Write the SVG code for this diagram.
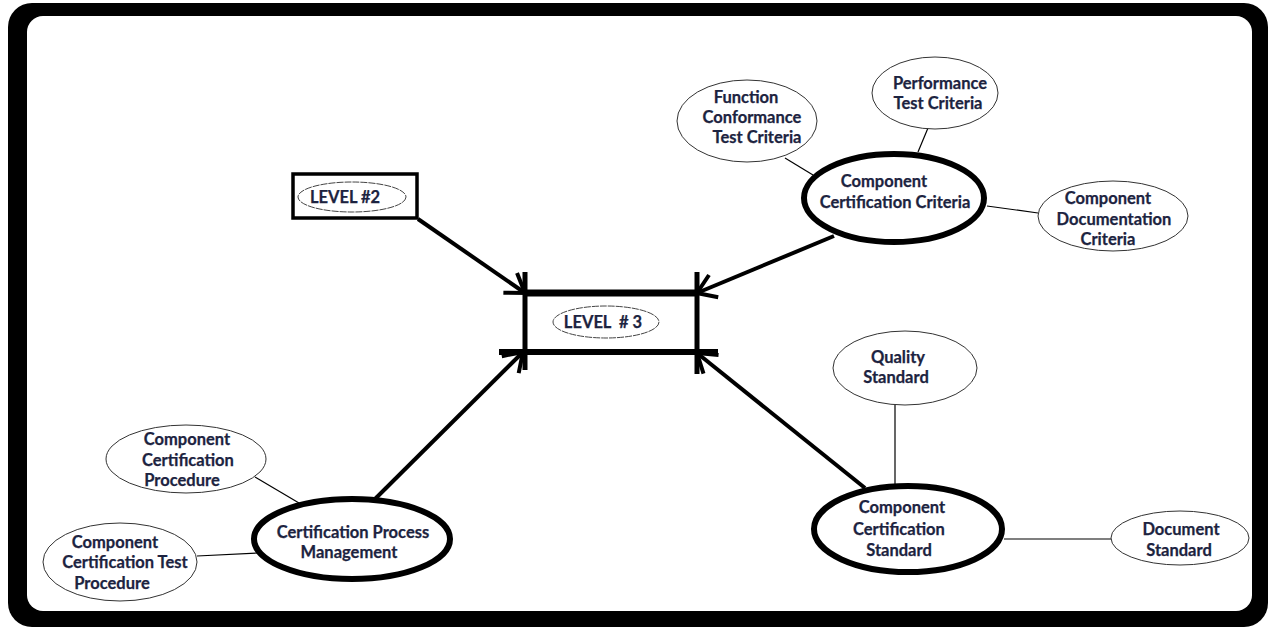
<svg xmlns="http://www.w3.org/2000/svg" width="1268" height="627" viewBox="0 0 1268 627">
  <defs>
    <marker id="arrow" viewBox="-22 -16 26 32" refX="0" refY="0" markerWidth="26" markerHeight="32" markerUnits="userSpaceOnUse" orient="auto" overflow="visible">
      <path d="M-18,-12 L0,0 L-18,12" fill="none" stroke="#000" stroke-width="4" stroke-linecap="butt"/>
    </marker>
  </defs>
  <style>
    text { font-family: Lato, "Open Sans", "Liberation Sans", sans-serif; font-weight: 700; font-size: 16.5px; fill: #1c2340; stroke: #1c2340; stroke-width: 0.25; text-anchor: middle; dominant-baseline: central; }
    .thin { fill: #fff; stroke: #333; stroke-width: 1; }
    .thick { fill: #fff; stroke: #000; stroke-width: 6; }
    .tag { fill: #fff; stroke: #444; stroke-width: 1; stroke-dasharray: 7 1; }
    .link { stroke: #000; stroke-width: 1.2; fill: none; }
    .main { stroke: #000; stroke-width: 4; fill: none; marker-end: url(#arrow); }
  </style>

  <!-- frame -->
  <rect x="0" y="0" width="1268" height="627" fill="#fff"/>
  <rect x="8" y="3" width="1260" height="624" rx="24" fill="#000"/>
  <rect x="27" y="16" width="1225" height="595" rx="16" fill="#fff"/>

  <!-- connectors -->
  <g id="connectors">
    <line class="main" x1="418" y1="219" x2="525" y2="293"/>
    <line class="main" x1="834" y1="236" x2="697" y2="293"/>
    <line class="main" x1="375" y1="499" x2="523" y2="352"/>
    <line class="main" x1="865" y1="488" x2="697" y2="353"/>
    <line class="link" x1="785" y1="158" x2="813" y2="175"/>
    <line class="link" x1="928" y1="128" x2="918" y2="152"/>
    <line class="link" x1="987" y1="206" x2="1038" y2="213"/>
    <line class="link" x1="255" y1="477" x2="299" y2="503"/>
    <line class="link" x1="197" y1="556" x2="258" y2="553"/>
    <line class="link" x1="895" y1="405" x2="895" y2="485"/>
    <line class="link" x1="1004" y1="539" x2="1112" y2="539"/>
  </g>

  <!-- level 2 -->
  <g id="level2">
    <rect x="293" y="174" width="124" height="44" fill="#fff" stroke="#000" stroke-width="3.5"/>
    <ellipse class="tag" cx="352" cy="197" rx="54" ry="15"/>
    <text x="345" y="197">LEVEL #2</text>
  </g>

  <!-- level 3 -->
  <g id="level3">
    <rect x="525" y="293" width="172" height="59" fill="#fff"/>
    <line x1="525" y1="293" x2="697" y2="293" stroke="#000" stroke-width="7"/>
    <line x1="499" y1="352" x2="718" y2="352" stroke="#000" stroke-width="6"/>
    <line x1="525" y1="272" x2="525" y2="370" stroke="#000" stroke-width="5"/>
    <line x1="697" y1="272" x2="697" y2="374" stroke="#000" stroke-width="5"/>
    <ellipse class="tag" cx="606" cy="322" rx="53" ry="16"/>
    <text x="603" y="322" xml:space="preserve">LEVEL  # 3</text>
  </g>

  <!-- criteria branch -->
  <g id="cc-criteria">
    <ellipse class="thick" cx="894" cy="198" rx="90" ry="44"/>
    <text x="884" y="181">Component</text>
    <text x="895" y="202">Certification Criteria</text>
  </g>
  <g id="function-conformance">
    <ellipse class="thin" cx="747" cy="121" rx="70" ry="41"/>
    <text x="746" y="97">Function</text>
    <text x="752" y="117">Conformance</text>
    <text x="757" y="137">Test Criteria</text>
  </g>
  <g id="performance">
    <ellipse class="thin" cx="935" cy="93" rx="63" ry="36"/>
    <text x="940" y="83">Performance</text>
    <text x="938" y="103">Test Criteria</text>
  </g>
  <g id="documentation-criteria">
    <ellipse class="thin" cx="1113" cy="216" rx="75" ry="35"/>
    <text x="1108" y="198">Component</text>
    <text x="1114" y="219">Documentation</text>
    <text x="1108" y="239">Criteria</text>
  </g>

  <!-- process branch -->
  <g id="process-management">
    <ellipse class="thick" cx="352" cy="539" rx="98" ry="40"/>
    <text x="353" y="532">Certification Process</text>
    <text x="349" y="552">Management</text>
  </g>
  <g id="cert-procedure">
    <ellipse class="thin" cx="186" cy="459" rx="80" ry="34"/>
    <text x="187" y="439">Component</text>
    <text x="188" y="460">Certification</text>
    <text x="182" y="480">Procedure</text>
  </g>
  <g id="cert-test-procedure">
    <ellipse class="thin" cx="120" cy="562" rx="77" ry="39"/>
    <text x="115" y="542">Component</text>
    <text x="125" y="562">Certification Test</text>
    <text x="112" y="583">Procedure</text>
  </g>

  <!-- standard branch -->
  <g id="cc-standard">
    <ellipse class="thick" cx="908" cy="529" rx="94" ry="43"/>
    <text x="902" y="507">Component</text>
    <text x="899" y="529">Certification</text>
    <text x="899" y="550">Standard</text>
  </g>
  <g id="quality-standard">
    <ellipse class="thin" cx="905" cy="368" rx="72" ry="37"/>
    <text x="898" y="357">Quality</text>
    <text x="896" y="377">Standard</text>
  </g>
  <g id="document-standard">
    <ellipse class="thin" cx="1180" cy="538" rx="69" ry="27"/>
    <text x="1181" y="529">Document</text>
    <text x="1179" y="550">Standard</text>
  </g>
</svg>
